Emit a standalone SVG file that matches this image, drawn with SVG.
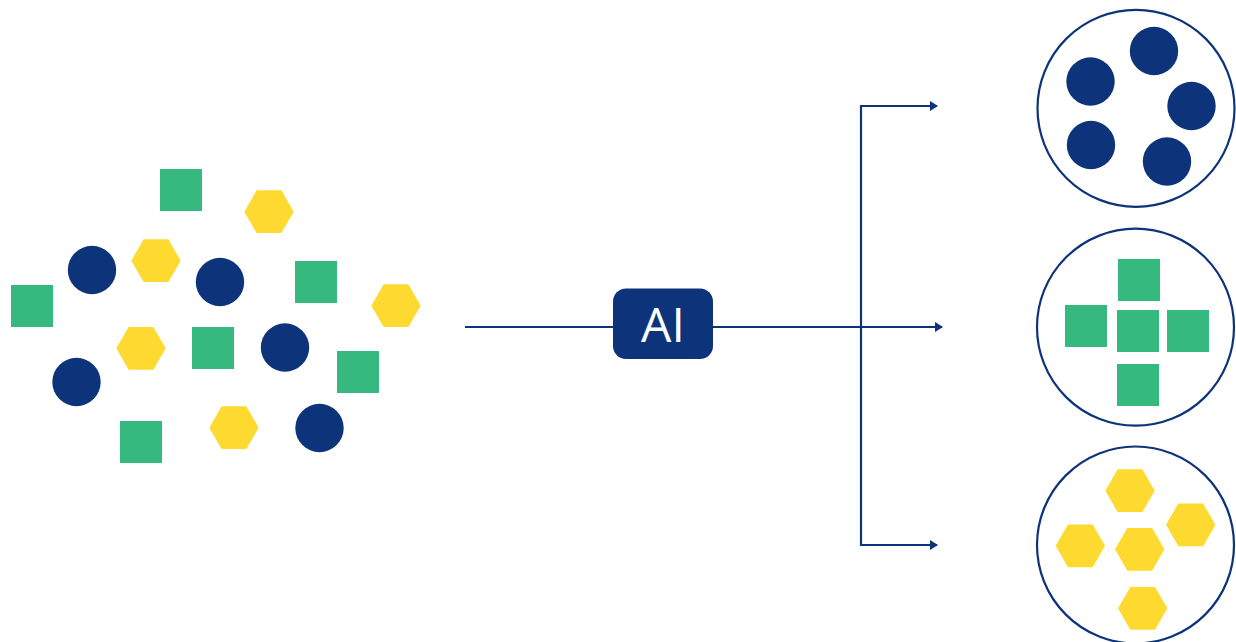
<svg xmlns="http://www.w3.org/2000/svg" xmlns:xlink="http://www.w3.org/1999/xlink" width="1236" height="642" viewBox="0 0 1236 642">
<style>
.sq{fill:#35B97F}
.hx{fill:#FEDA30}
.dot{fill:#0D347A}
.ring{fill:#fff;stroke:#0D347A;stroke-width:2.2}
.conn{fill:none;stroke:#0D347A;stroke-width:2.2}
.label{font-family:"Open Sans","Liberation Sans",sans-serif;font-size:48px;fill:#fff}
</style>
<defs>
<polygon id="hex" points="-24.7,0 -12.35,-21.4 12.35,-21.4 24.7,0 12.35,21.4 -12.35,21.4"/>
<marker id="arr" viewBox="0 0 8 10" refX="7" refY="5" markerWidth="8" markerHeight="10" markerUnits="userSpaceOnUse" orient="auto">
<path d="M0,0 L8,5 L0,10 Z" fill="#0D347A"/>
</marker>
</defs>
<rect width="1236" height="642" fill="#fff"/>

<g id="connectors">
<line class="conn" x1="465" y1="327" x2="613" y2="327"/>
<line class="conn" x1="713" y1="327" x2="942" y2="327" marker-end="url(#arr)"/>
<polyline class="conn" points="937,106 861,106 861,545 937,545"/>
<line class="conn" x1="861" y1="106" x2="937" y2="106" marker-end="url(#arr)"/>
<line class="conn" x1="861" y1="545" x2="937" y2="545" marker-end="url(#arr)"/>
</g>

<g id="mixed-input">
<rect class="sq" x="160" y="169" width="42" height="42"/>
<rect class="sq" x="295" y="261" width="42" height="42"/>
<rect class="sq" x="11" y="285" width="42" height="42"/>
<rect class="sq" x="192" y="327" width="42" height="42"/>
<rect class="sq" x="337" y="351" width="42" height="42"/>
<rect class="sq" x="120" y="421" width="42" height="42"/>
<use href="#hex" xlink:href="#hex" class="hx" x="269" y="211.7"/>
<use href="#hex" xlink:href="#hex" class="hx" x="156" y="260.7"/>
<use href="#hex" xlink:href="#hex" class="hx" x="396" y="305.7"/>
<use href="#hex" xlink:href="#hex" class="hx" x="141" y="348.3"/>
<use href="#hex" xlink:href="#hex" class="hx" x="234" y="427.7"/>
<circle class="dot" cx="92" cy="270" r="24.2"/>
<circle class="dot" cx="220" cy="282" r="24.2"/>
<circle class="dot" cx="285" cy="347.5" r="24.2"/>
<circle class="dot" cx="76.5" cy="382" r="24.2"/>
<circle class="dot" cx="319.5" cy="428" r="24.2"/>
</g>

<g id="ai">
<rect x="613" y="288.5" width="100" height="70.5" rx="13" fill="#0D347A"/>
<text class="label" x="663" y="341.5" text-anchor="middle">AI</text>
</g>

<g id="circles-group">
<circle class="ring" cx="1136" cy="108.3" r="98.5"/>
<circle class="dot" cx="1154" cy="51" r="24.2"/>
<circle class="dot" cx="1090.5" cy="81.5" r="24.2"/>
<circle class="dot" cx="1191.5" cy="106" r="24.2"/>
<circle class="dot" cx="1091" cy="145" r="24.2"/>
<circle class="dot" cx="1167" cy="161.5" r="24.2"/>
</g>

<g id="squares-group">
<circle class="ring" cx="1135.5" cy="327.2" r="98.5"/>
<rect class="sq" x="1118" y="259" width="42" height="42"/>
<rect class="sq" x="1065" y="305" width="42" height="42"/>
<rect class="sq" x="1117" y="310" width="42" height="42"/>
<rect class="sq" x="1167" y="310" width="42" height="42"/>
<rect class="sq" x="1117" y="364" width="42" height="42"/>
</g>

<g id="hexagons-group">
<circle class="ring" cx="1135.5" cy="545" r="98.5"/>
<use href="#hex" xlink:href="#hex" class="hx" x="1130" y="490.7"/>
<use href="#hex" xlink:href="#hex" class="hx" x="1190.7" y="524.8"/>
<use href="#hex" xlink:href="#hex" class="hx" x="1080.3" y="545.8"/>
<use href="#hex" xlink:href="#hex" class="hx" x="1139.7" y="549.3"/>
<use href="#hex" xlink:href="#hex" class="hx" x="1142.7" y="608.3"/>
</g>
</svg>
